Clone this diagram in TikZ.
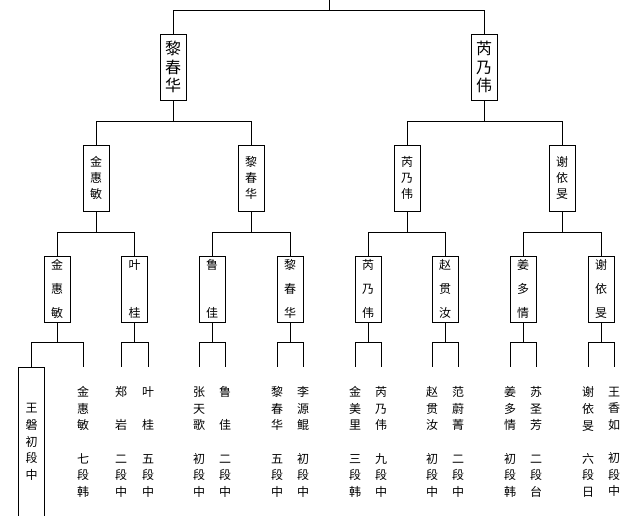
\documentclass[tikz,border=0pt]{standalone}
\usepackage{fontspec}
\setmainfont{Noto Sans CJK SC}

\tikzset{
  semi/.style={draw=black, line width=0.8pt, inner sep=0pt, minimum width=26pt, minimum height=66pt, align=center, font=\fontsize{16}{18.5}\selectfont},
  quarter/.style={semi, font=\fontsize{12}{16}\selectfont},
  eighth/.style={semi, font=\fontsize{12}{24}\selectfont},
  player/.style={inner sep=0pt, minimum width=26pt, minimum height=150pt, align=center, font=\fontsize{12}{16.6}\selectfont},
  winner/.style={player, draw=black, line width=0.8pt}
}

\begin{document}
\begin{tikzpicture}[x=1pt, y=-1pt, line width=0.8pt]
  \useasboundingbox (0,0) rectangle (640,515);
  \coordinate (top) at (329,0);

  % semifinals
  \node (S1) [semi] at (173,67) {黎\\春\\华};
  \node (S2) [semi] at (484,67) {芮\\乃\\伟};

  % quarterfinals
  \node (Q1) [quarter] at (96,178) {金\\惠\\敏};
  \node (Q2) [quarter] at (251,178) {黎\\春\\华};
  \node (Q3) [quarter] at (407,178) {芮\\乃\\伟};
  \node (Q4) [quarter] at (562,178) {谢\\依\\旻};

  % second round
  \node (R1) [eighth] at (57,289) {金\\惠\\敏};
  \node (R2) [eighth] at (134.5,289) {叶\\{}\\桂};
  \node (R3) [eighth] at (212,289) {鲁\\{}\\佳};
  \node (R4) [eighth] at (290,289) {黎\\春\\华};
  \node (R5) [eighth] at (368,289) {芮\\乃\\伟};
  \node (R6) [eighth] at (445,289) {赵\\贯\\汝};
  \node (R7) [eighth] at (523,289) {姜\\多\\情};
  \node (R8) [eighth] at (601,289) {谢\\依\\旻};

  % first round
  \node (P1) [winner] at (31.5,442) {王\\磐\\初\\段\\中};
  \node (P2) [player] at (83,442) {金\\惠\\敏\\{}\\七\\段\\韩};
  \node (P3) [player] at (121,442) {郑\\{}\\岩\\{}\\二\\段\\中};
  \node (P4) [player] at (148,442) {叶\\{}\\桂\\{}\\五\\段\\中};
  \node (P5) [player] at (199,442) {张\\天\\歌\\{}\\初\\段\\中};
  \node (P6) [player] at (225,442) {鲁\\{}\\佳\\{}\\二\\段\\中};
  \node (P7) [player] at (277,442) {黎\\春\\华\\{}\\五\\段\\中};
  \node (P8) [player] at (303,442) {李\\源\\鲲\\{}\\初\\段\\中};
  \node (P9) [player] at (355,442) {金\\美\\里\\{}\\三\\段\\韩};
  \node (P10) [player] at (381,442) {芮\\乃\\伟\\{}\\九\\段\\中};
  \node (P11) [player] at (432,442) {赵\\贯\\汝\\{}\\初\\段\\中};
  \node (P12) [player] at (458,442) {范\\蔚\\菁\\{}\\二\\段\\中};
  \node (P13) [player] at (510,442) {姜\\多\\情\\{}\\初\\段\\韩};
  \node (P14) [player] at (536,442) {苏\\圣\\芳\\{}\\二\\段\\台};
  \node (P15) [player] at (588,442) {谢\\依\\旻\\{}\\六\\段\\日};
  \node (P16) [player] at (614,442) {王\\香\\如\\{}\\初\\段\\中};

  % brackets
  \draw (top) -- ++(0,10) -| (S1.north);
  \draw (top) ++(0,10) -| (S2.north);
  \foreach \p/\a/\b/\d in {S1/Q1/Q2/21, S2/Q3/Q4/21,
      Q1/R1/R2/21, Q2/R3/R4/21, Q3/R5/R6/21, Q4/R7/R8/21,
      R1/P1/P2/20, R2/P3/P4/20, R3/P5/P6/20, R4/P7/P8/20,
      R5/P9/P10/20, R6/P11/P12/20, R7/P13/P14/20, R8/P15/P16/20} {
    \draw (\p.south) -- ++(0,\d) -| (\a.north);
    \draw (\p.south) ++(0,\d) -| (\b.north);
  }
\end{tikzpicture}
\end{document}
